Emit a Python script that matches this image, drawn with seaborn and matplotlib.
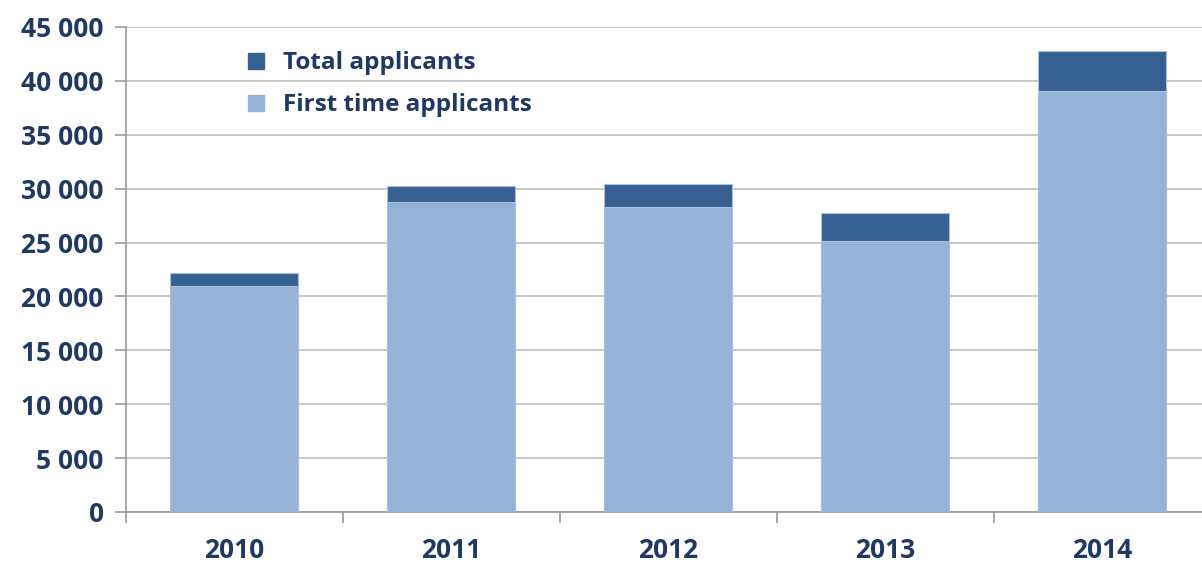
import pandas as pd
import matplotlib.pyplot as plt
import matplotlib.ticker as mticker
from matplotlib.patches import Patch
import seaborn as sns

# data
years = ["2010", "2011", "2012", "2013", "2014"]
total_applicants = [22190, 30240, 30400, 27780, 42740]
first_time_applicants = [20990, 28800, 28270, 25160, 39100]

DARK = "#366092"
LIGHT = "#95B3D7"
TEXT = "#1F3864"
GRID = "#BFBFBF"

sns.set_theme(style="white")
plt.rcParams['font.family'] = ['Open Sans', 'DejaVu Sans']

df = pd.DataFrame({"Year": years, "Total": total_applicants, "First": first_time_applicants})

fig = plt.figure(figsize=(12.02, 5.63), dpi=100)
ax = fig.add_axes([0.1048, 0.0906, 0.895, 0.8615])

# total bars first, first-time bars drawn over them
sns.barplot(data=df, x="Year", y="Total", color=DARK, saturation=1, width=0.59,
            edgecolor="#A9BFDC", linewidth=0.8, ax=ax, zorder=2)
sns.barplot(data=df, x="Year", y="First", color=LIGHT, saturation=1, width=0.59,
            edgecolor="#A9BFDC", linewidth=0.8, ax=ax, zorder=3)

ax.yaxis.set_major_locator(mticker.MultipleLocator(5000))
ax.yaxis.set_major_formatter(mticker.FuncFormatter(lambda v, p: f"{int(v):,}".replace(",", " ")))
ax.grid(axis="y", color=GRID, linewidth=1.2, zorder=0)
ax.set_axisbelow(True)

for s in ["top", "right"]:
    ax.spines[s].set_visible(False)
for s in ["left", "bottom"]:
    ax.spines[s].set_color("#999999")
    ax.spines[s].set_linewidth(1.2)

ax.set_xlabel("")
ax.set_ylabel("")

# y tick labels
ax.tick_params(axis="y", which="major", left=True, length=8, width=1.2, color="#999999",
               labelsize=19, labelcolor=TEXT, pad=8)

# x: labels under bars, tick marks between categories
ax.set_xticks([i - 0.5 for i in range(len(years) + 1)], minor=True)
ax.tick_params(axis="x", which="major", bottom=False, labelsize=19, labelcolor=TEXT, pad=12)
ax.tick_params(axis="x", which="minor", bottom=True, length=8, width=1.2, color="#999999")
for t in ax.get_xticklabels() + ax.get_yticklabels():
    t.set_fontweight("bold")

# limits after the ticks, set_xticks widens the view
ax.set_ylim(0, 45000)
ax.set_xlim(-0.5, 4.46)

handles = [Patch(facecolor=DARK, edgecolor=DARK, label="Total applicants"),
           Patch(facecolor=LIGHT, edgecolor=LIGHT, label="First time applicants")]
leg = ax.legend(handles=handles, loc="upper left", bbox_to_anchor=(0.093, 0.995),
                frameon=False, handlelength=0.65, handleheight=0.65,
                handletextpad=0.8, labelspacing=0.75, prop={"weight": "bold", "size": 17.5})
for txt in leg.get_texts():
    txt.set_color(TEXT)

fig.savefig("out.png", dpi=100)
